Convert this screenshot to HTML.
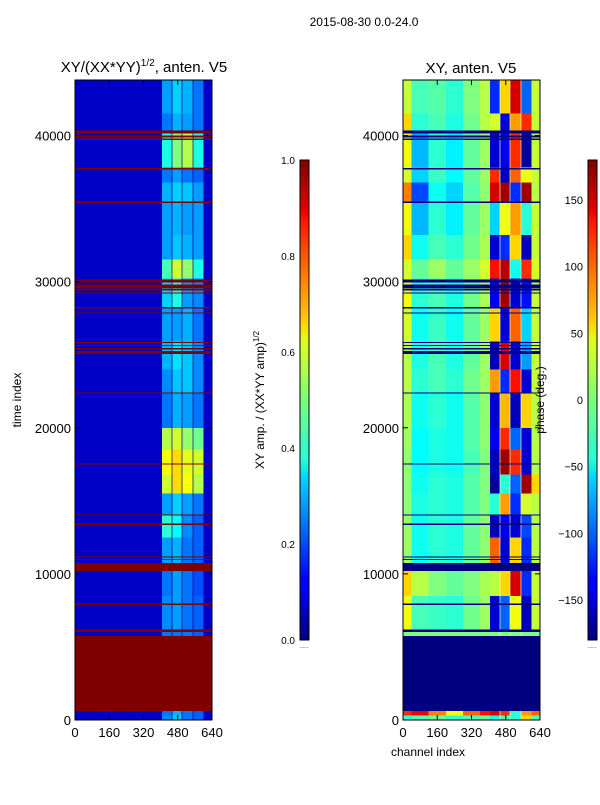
<!DOCTYPE html>
<html><head><meta charset="utf-8"><style>
html,body{margin:0;padding:0;background:#fff;}
svg text{font-family:"Liberation Sans",sans-serif;fill:#000;}
</style></head><body>
<svg id="fig" width="600" height="800" viewBox="0 0 600 800" xmlns="http://www.w3.org/2000/svg">
<defs>
<linearGradient id="jetgrad" x1="0" y1="1" x2="0" y2="0">
<stop offset="0" stop-color="#00007f"/><stop offset="0.11" stop-color="#0000ff"/><stop offset="0.125" stop-color="#0000ff"/>
<stop offset="0.34" stop-color="#00d8ff"/><stop offset="0.375" stop-color="#20ffd8"/><stop offset="0.5" stop-color="#7cff7a"/>
<stop offset="0.625" stop-color="#e2ff16"/><stop offset="0.66" stop-color="#ffd200"/><stop offset="0.875" stop-color="#ff1400"/>
<stop offset="0.89" stop-color="#f00000"/><stop offset="1" stop-color="#7f0000"/>
</linearGradient>
<clipPath id="clipL"><rect x="75" y="80" width="137" height="640"/></clipPath>
<clipPath id="clipR"><rect x="403" y="80" width="137" height="640"/></clipPath>
</defs>
<text x="364" y="26" font-size="12" text-anchor="middle">2015-08-30 0.0-24.0</text>
<text x="144" y="72" font-size="15" text-anchor="middle">XY/(XX*YY)<tspan font-size="10" dy="-6">1/2</tspan><tspan dy="6">, anten. V5</tspan></text>
<text x="471" y="73" font-size="15" text-anchor="middle">XY, anten. V5</text>
<g id="heatL" clip-path="url(#clipL)"></g>
<g id="heatR" clip-path="url(#clipR)"></g>
<g id="axesG"></g>
<text transform="translate(21,400) rotate(-90)" font-size="12" text-anchor="middle">time index</text>
<text x="428" y="756" font-size="12" text-anchor="middle">channel index</text>
<rect x="300" y="160" width="9" height="480" fill="url(#jetgrad)" stroke="#000" stroke-width="1"/>
<rect x="588" y="160" width="9" height="480" fill="url(#jetgrad)" stroke="#000" stroke-width="1"/>
<text transform="translate(264,400) rotate(-90)" font-size="12" text-anchor="middle">XY amp. / (XX*YY amp)<tspan font-size="8" dy="-5">1/2</tspan></text>
<text transform="translate(544,400) rotate(-90)" font-size="12" text-anchor="middle">phase (deg.)</text>
<text x="304" y="648" font-size="5" text-anchor="middle" fill="#888">......</text>
<text x="592" y="648" font-size="5" text-anchor="middle" fill="#888">......</text>
</svg>
<script>
// ---- data ----
const bandTop = [43800,41500,40300,37800,36800,35400,33200,31500,30200,28200,25900,24000,22400,20000,18500,16800,15500,14000,12500,10200,8500,6100,600,300];
const chanBinEdges = [0,40,120,200,280,360,406];
const noisyEdges = [406,452,500,552,600];
const noisyEnd = 600;
const ampLow = 0.07;
const ampNoisy = [
[0.28,0.33,0.30,0.24,0.22],[0.24,0.30,0.28,0.24,0.20],[0.40,0.50,0.55,0.40,0.30],[0.24,0.28,0.24,0.22,0.20],
[0.30,0.33,0.32,0.28,0.24],[0.28,0.30,0.28,0.28,0.24],[0.28,0.32,0.30,0.28,0.24],[0.45,0.58,0.52,0.40,0.30],
[0.33,0.40,0.28,0.26,0.22],[0.28,0.28,0.30,0.24,0.20],[0.30,0.35,0.32,0.26,0.22],[0.26,0.32,0.32,0.26,0.22],
[0.24,0.30,0.28,0.24,0.20],[0.55,0.58,0.52,0.48,0.30],[0.62,0.66,0.60,0.58,0.35],[0.58,0.66,0.62,0.55,0.30],
[0.28,0.33,0.28,0.24,0.20],[0.42,0.38,0.26,0.22,0.18],[0.28,0.30,0.24,0.22,0.18],[0.24,0.28,0.24,0.20,0.18],
[0.26,0.28,0.24,0.22,0.18],[0.24,0.24,0.24,0.22,0.18],[0.24,0.30,0.24,0.22,0.20],[0.26,0.32,0.24,0.22,0.20]];
const phaseLow = [
[25,-20,-15,-30,0,20],[60,-30,-20,-35,-5,20],[40,-70,-30,-50,-10,10],[30,-60,-25,-45,-10,10],
[90,-110,-40,-60,-15,5],[40,-70,-30,-50,-10,10],[60,-40,-20,-30,-5,15],[30,-10,10,-10,10,30],
[40,-30,-20,-35,-5,15],[30,-40,-25,-40,-10,10],[20,-35,-20,-35,-10,10],[20,-30,-20,-30,-5,10],
[15,-40,-30,-40,-15,5],[10,-45,-35,-40,-15,5],[5,-45,-35,-40,-20,0],[5,-40,-30,-35,-15,0],
[5,-35,-30,-35,-15,0],[10,-40,-30,-35,-10,5],[10,-40,-30,-35,-10,5],[60,20,0,-10,0,15],
[40,-20,-25,-30,-5,10],[0,0,0,0,0,0],[120,140,90,40,100,130],[-30,-20,-10,-30,-20,-10]];
const phaseNoisy = [
[-120,60,150,-100,40],[30,-150,80,120,-60],[-150,-140,120,-170,-90],[120,-160,100,40,-120],
[150,170,-120,170,150],[-60,40,80,-30,20],[-150,-120,60,-160,-100],[130,160,-40,120,170],
[-140,170,-150,-130,-100],[60,-150,100,-60,30],[-160,150,-150,-80,60],[80,-120,130,-150,40],
[-150,70,-160,60,-100],[-140,120,-100,-150,-60],[-160,170,120,-150,-170],[-170,-30,-100,170,-90],
[-30,80,-120,30,-150],[-160,-140,-150,-110,-170],[100,-150,60,-120,120],[20,60,150,-120,80],
[-150,-100,40,-160,-140],[0,0,0,0,0],[150,120,-30,80,-60],[-40,-20,-30,60,20]];
const phaseTail = [25,25,25,25,20,25,25,30,25,25,25,25,20,20,20,60,20,20,20,25,25,0,100,-20];
const flagStart = [40150,39850,39680,37680,35380,29950,29580,29400,29180,28150,27820,25800,25580,25370,25050,22340,17470,13980,13360,11120,10940,10200,7880,6020,620];
const flagEnd   = [40350,40000,39780,37780,35480,30150,29800,29520,29260,28250,27900,25880,25660,25450,25250,22420,17550,14060,13440,11200,11020,10750,7960,6180,5760];
const xTicks = [0,160,320,480,640];
const yTicks = [0,10000,20000,30000,40000];
const ampTicks = [0.0,0.2,0.4,0.6,0.8,1.0];
const phaseTicks = [-150,-100,-50,0,50,100,150];

// ---- scales ----
const T_MAX = 43800, C_MAX = 640;
const yT = t => 720 - t / T_MAX * 640;
const xL = c => 75 + c / C_MAX * 137;
const xR = c => 403 + c / C_MAX * 137;
const cbY = n => 640 - n * 480;
function clamp(v){return Math.max(0,Math.min(1,v));}
function jet(x){
  const r=clamp(Math.min(4*x-1.5,-4*x+4.5)), g=clamp(Math.min(4*x-0.5,-4*x+3.5)), b=clamp(Math.min(4*x+0.5,-4*x+2.5));
  return `rgb(${Math.round(r*255)},${Math.round(g*255)},${Math.round(b*255)})`;
}
const ampColor = v => jet(v);
const phaseColor = v => jet((v+180)/360);
const NS = "http://www.w3.org/2000/svg";
function rect(parent,x,y,w,h,fill){
  const r=document.createElementNS(NS,"rect");
  r.setAttribute("x",x);r.setAttribute("y",y);r.setAttribute("width",Math.max(w,0.1));r.setAttribute("height",Math.max(h,0.1));
  r.setAttribute("fill",fill);r.setAttribute("shape-rendering","crispEdges");
  parent.appendChild(r);return r;
}
const gL=document.getElementById("heatL"), gR=document.getElementById("heatR");
for(let i=0;i<bandTop.length;i++){
  const t1=bandTop[i], t0=(i+1<bandTop.length)?bandTop[i+1]:0;
  const y=yT(t1), h=yT(t0)-yT(t1);
  let c=rect(gL,xL(0),y,xL(C_MAX)-xL(0),h,ampColor(ampLow));
  
  
  for(let k=0;k<noisyEdges.length-1;k++){
    const c0=noisyEdges[k], c1=noisyEdges[k+1];
    const a=rect(gL,xL(c0),y,xL(c1)-xL(c0),h,ampColor(ampNoisy[i][k]));
    
    
    const p=rect(gR,xR(c0),y,xR(c1)-xR(c0),h,phaseColor(phaseNoisy[i][k]));
    
    
  }
  for(let k=0;k<phaseLow[i].length;k++){
    const c0=chanBinEdges[k], c1=chanBinEdges[k+1];
    const p=rect(gR,xR(c0),y,xR(c1)-xR(c0),h,phaseColor(phaseLow[i][k]));
    
    
  }
  const tl=rect(gR,xR(noisyEnd),y,xR(C_MAX)-xR(noisyEnd),h,phaseColor(phaseTail[i]));
  
  
}
for(let k=1;k<noisyEdges.length-1;k++){
  const s1=rect(gL,xL(noisyEdges[k])-0.5,80,1,640,"rgba(0,0,140,0.7)");
  
  
  const s2=rect(gR,xR(noisyEdges[k])-0.5,80,1,640,"rgba(230,255,180,0.7)");
  
  
}
for(let i=0;i<flagStart.length;i++){
  const y=yT(flagEnd[i]), h=Math.max(yT(flagStart[i])-y,1);
  const f1=rect(gL,75,y,137,h,ampColor(1.0));
  
  
  const f2=rect(gR,403,y,137,h,phaseColor(-180));
  
  
}
const ax=document.getElementById("axesG");
function line(x1,y1,x2,y2,name){
  const l=document.createElementNS(NS,"line");
  l.setAttribute("x1",x1);l.setAttribute("y1",y1);l.setAttribute("x2",x2);l.setAttribute("y2",y2);
  l.setAttribute("stroke","#000");l.setAttribute("stroke-width","1");
  
  
  ax.appendChild(l);
}
function text(x,y,s,anchor,size,name){
  const t=document.createElementNS(NS,"text");
  t.setAttribute("x",x);t.setAttribute("y",y);t.setAttribute("text-anchor",anchor);t.setAttribute("font-size",size);
  t.textContent=s;
  
  
  ax.appendChild(t);
}
[[75,xL],[403,xR]].forEach(([x0,xs],pi)=>{
  const fr=document.createElementNS(NS,"rect");
  fr.setAttribute("x",x0);fr.setAttribute("y",80);fr.setAttribute("width",137);fr.setAttribute("height",640);
  fr.setAttribute("fill","none");fr.setAttribute("stroke","#000");
  
  
  ax.appendChild(fr);
  xTicks.forEach(v=>{
    const x=xs(v);
    line(x,720,x,715,'x-tick');line(x,80,x,85,'x-tick');
    text(x,737,String(v),"middle",13,'x-tick-label');
  });
  yTicks.forEach(v=>{
    const y=yT(v);
    line(x0,y,x0+5,y,'y-tick');line(x0+137,y,x0+132,y,'y-tick');
    text(x0-4,y+5,String(v),"end",13,'y-tick-label');
  });
});
ampTicks.forEach(v=>{
  const y=cbY(v);
  line(300,y,303,y,'colorbar-tick');line(309,y,306,y,'colorbar-tick');
  text(295,y+4,v.toFixed(1),"end",10,'amp-colorbar-tick-label');
});
phaseTicks.forEach(v=>{
  const y=cbY((v+180)/360);
  line(588,y,591,y,'colorbar-tick');line(597,y,594,y,'colorbar-tick');
  text(583,y+4,v<0?"\u2212"+Math.abs(v):String(v),"end",11,'phase-colorbar-tick-label');
});
</script>
</body></html>
